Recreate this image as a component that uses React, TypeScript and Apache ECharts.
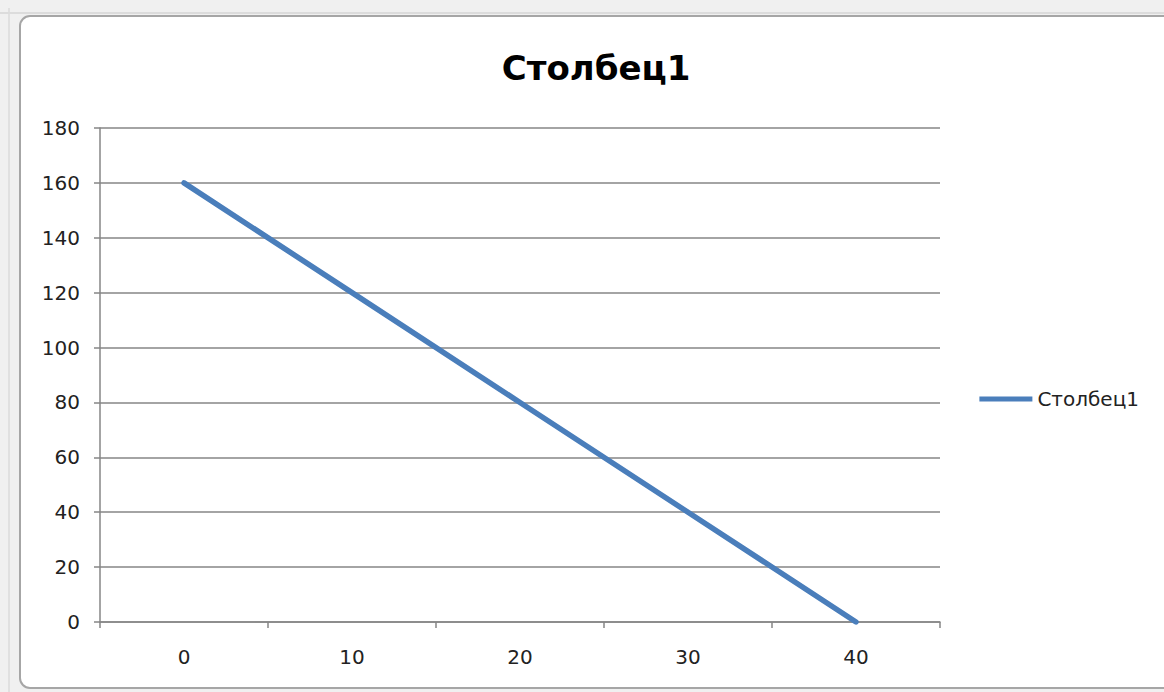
import React, { useEffect, useRef } from "react";
import * as echarts from "echarts";

const titleText = "Столбец1";
const seriesName = "Столбец1";
const categories = ["0", "10", "20", "30", "40"];
const values = [160, 120, 80, 40, 0];
const yMin = 0;
const yMax = 180;
const yInterval = 20;

export default function App() {
  const ref = useRef<HTMLDivElement>(null);
  useEffect(() => {
    document.body.style.margin = "0";
    const chart = echarts.init(ref.current!, null, { renderer: "svg" });
    const font = "'DejaVu Sans', 'Open Sans', sans-serif";
    chart.setOption({
      animation: false,
      backgroundColor: "#f0f0f0",
      graphic: [
        { type: "line", shape: { x1: 9, y1: 8, x2: 9, y2: 692 }, style: { stroke: "#d0d0d0", lineWidth: 1 } },
        { type: "line", shape: { x1: 0, y1: 13, x2: 1164, y2: 13 }, style: { stroke: "#dcdcdc", lineWidth: 2 } },
        {
          type: "rect",
          shape: { x: 20, y: 16, width: 1160, height: 672, r: 10 },
          style: { fill: "#ffffff", stroke: "#a6a6a6", lineWidth: 2 },
          z: -1,
        },
        {
          type: "text",
          x: 596,
          y: 68,
          style: {
            text: titleText,
            align: "center",
            verticalAlign: "middle",
            fontFamily: font,
            fontSize: 34,
            fontWeight: "bold",
            fill: "#000",
          },
        },
      ],
      legend: {
        data: [{ name: seriesName, icon: "rect" }],
        right: 20,
        top: 384,
        itemWidth: 53,
        itemHeight: 5,
        itemGap: 6,
        textStyle: { fontFamily: font, fontSize: 20, color: "#222" },
      },
      grid: { left: 100, top: 128, width: 840, height: 494, containLabel: false },
      xAxis: {
        type: "category",
        data: categories,
        boundaryGap: true,
        axisLine: { lineStyle: { color: "#868686", width: 1.5 } },
        axisTick: { show: true, length: 6, lineStyle: { color: "#868686", width: 1.5 }, alignWithLabel: false },
        axisLabel: { fontFamily: font, fontSize: 20, color: "#222", margin: 25 },
        splitLine: { show: false },
      },
      yAxis: {
        type: "value",
        min: yMin,
        max: yMax,
        interval: yInterval,
        axisLine: { show: true, lineStyle: { color: "#868686", width: 1.5 } },
        axisTick: { show: true, length: 6, lineStyle: { color: "#868686", width: 1.5 } },
        axisLabel: { fontFamily: font, fontSize: 20, color: "#222", margin: 20, align: "right" },
        splitLine: { show: true, lineStyle: { color: "#868686", width: 1.5 } },
      },
      series: [
        {
          name: seriesName,
          type: "line",
          data: values,
          symbol: "none",
          lineStyle: { color: "#4a7ebb", width: 5.5, cap: "round" },
          itemStyle: { color: "#4a7ebb" },
        },
      ],
    });
    return () => chart.dispose();
  }, []);
  return <div ref={ref} style={{ position: "fixed", left: 0, top: 0, width: 1164, height: 692 }} />;
}
